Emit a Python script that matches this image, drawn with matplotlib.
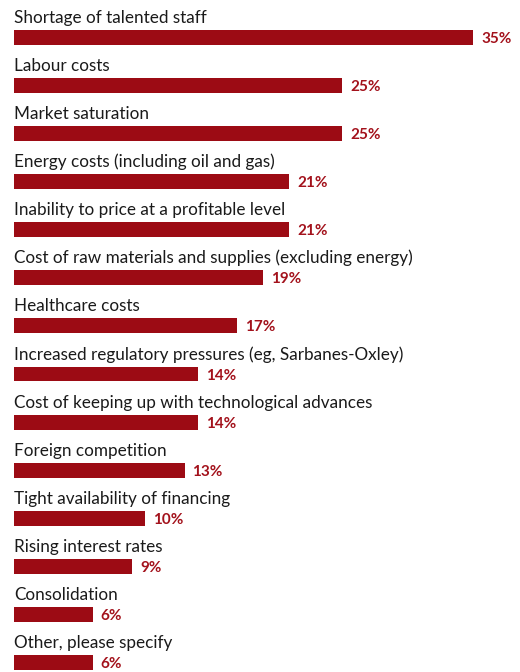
import matplotlib.pyplot as plt

# Survey responses, top to bottom
labels = [
    "Shortage of talented staff",
    "Labour costs",
    "Market saturation",
    "Energy costs (including oil and gas)",
    "Inability to price at a profitable level",
    "Cost of raw materials and supplies (excluding energy)",
    "Healthcare costs",
    "Increased regulatory pressures (eg, Sarbanes-Oxley)",
    "Cost of keeping up with technological advances",
    "Foreign competition",
    "Tight availability of financing",
    "Rising interest rates",
    "Consolidation",
    "Other, please specify",
]
values = [35, 25, 25, 21, 21, 19, 17, 14, 14, 13, 10, 9, 6, 6]

bar_color = '#9c0b14'
text_color = '#a3121c'

fig = plt.figure(figsize=(5.2, 6.72), dpi=100)
ax = fig.add_axes([0, 0, 1, 1])

pos = list(range(len(values)))
bar_h = 0.31
ax.barh(pos, values, height=bar_h, color=bar_color, align='center')

ax.set_xlim(-1.07, 38.58)
ax.set_ylim(13.19, -0.77)
ax.axis('off')

for i, (lab, v) in enumerate(zip(labels, values)):
    # category name sits just above its bar
    ax.annotate(lab, xy=(0, i - bar_h / 2), xytext=(0, 7), textcoords='offset pixels',
                ha='left', va='baseline', fontsize=12.3, color='#1a1a1a',
                family=['Lato', 'DejaVu Sans'])
    # percentage to the right of the bar
    ax.annotate(f"{v}%", xy=(v, i), xytext=(8, -5.5), textcoords='offset pixels',
                ha='left', va='baseline', fontsize=11, fontweight='bold',
                color=text_color, family=['Lato', 'DejaVu Sans'])

fig.savefig('out.png', dpi=100)
